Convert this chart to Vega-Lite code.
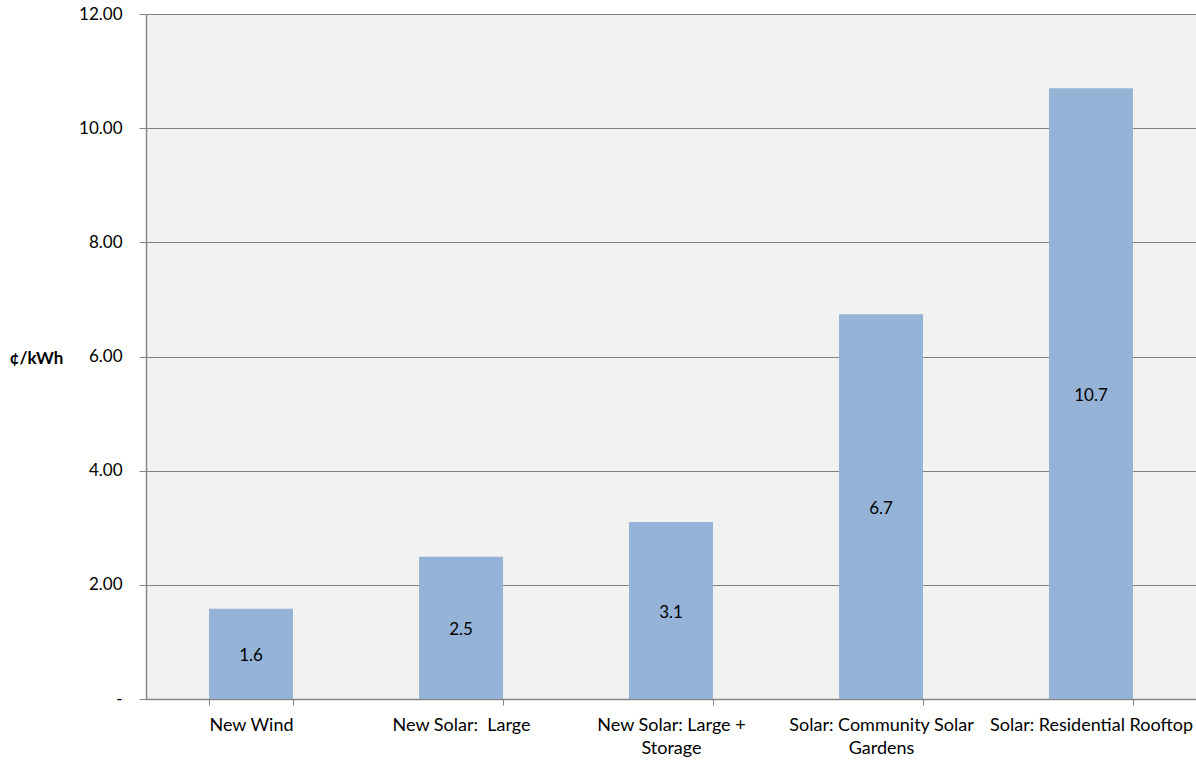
{
  "$schema": "https://vega.github.io/schema/vega-lite/v6.json",
  "width": 1050,
  "height": 685,
  "autosize": {"type": "none"},
  "padding": {"left": 146, "top": 14, "right": 0, "bottom": 62},
  "background": "white",
  "config": {
    "view": {"fill": "#f2f2f2", "stroke": null},
    "font": "Lato"
  },
  "data": {
    "values": [
      {"category": "New Wind", "value": 1.58, "label": "1.6"},
      {"category": "New Solar:  Large", "value": 2.49, "label": "2.5"},
      {"category": "New Solar: Large + Storage", "value": 3.1, "label": "3.1"},
      {"category": "Solar: Community Solar Gardens", "value": 6.74, "label": "6.7"},
      {"category": "Solar: Residential Rooftop", "value": 10.7, "label": "10.7"}
    ]
  },
  "encoding": {
    "x": {
      "field": "category",
      "type": "nominal",
      "sort": null,
      "scale": {"paddingInner": 0.6, "paddingOuter": 0.3},
      "axis": {
        "title": null,
        "labelAngle": 0,
        "labelFontSize": 18,
        "labelColor": "#000000",
        "labelPadding": 11,
        "labelLimit": 300,
        "tickBand": "extent",
        "tickSize": 6,
        "tickColor": "#868686",
        "domainColor": "#868686",
        "domainWidth": 1.5,
        "labelExpr": "datum.value == 'New Solar: Large + Storage' ? ['New Solar: Large +', 'Storage'] : datum.value == 'Solar: Community Solar Gardens' ? ['Solar: Community Solar', 'Gardens'] : datum.value == 'New Solar:  Large' ? 'New Solar:\u00a0 Large' : datum.value",
        "labelLineHeight": 23
      }
    }
  },
  "layer": [
    {
      "mark": {"type": "bar", "color": "#95b3d7"},
      "encoding": {
        "y": {
          "field": "value",
          "type": "quantitative",
          "scale": {"domain": [0, 12], "nice": false},
          "axis": {
            "values": [0, 2, 4, 6, 8, 10, 12],
            "labelExpr": "datum.value == 0 ? '-' : format(datum.value, '.2f')",
            "labelFontSize": 17,
            "labelColor": "#000000",
            "labelPadding": 17,
            "tickSize": 7,
            "tickColor": "#868686",
            "domainColor": "#868686",
            "domainWidth": 1.5,
            "gridColor": "#808080",
            "gridWidth": 1,
            "title": "¢/kWh",
            "titleAngle": 0,
            "titleFontSize": 17,
            "titleFontWeight": "bold",
            "titleColor": "#000000",
            "titleX": -110,
            "titleY": 344,
            "titleAlign": "center",
            "titleBaseline": "middle"
          }
        }
      }
    },
    {
      "mark": {"type": "text", "fontSize": 17, "color": "#000000", "baseline": "middle", "dy": 2},
      "encoding": {
        "y": {"field": "mid", "type": "quantitative"},
        "text": {"field": "label"}
      },
      "transform": [{"calculate": "datum.value / 2", "as": "mid"}]
    }
  ]
}
